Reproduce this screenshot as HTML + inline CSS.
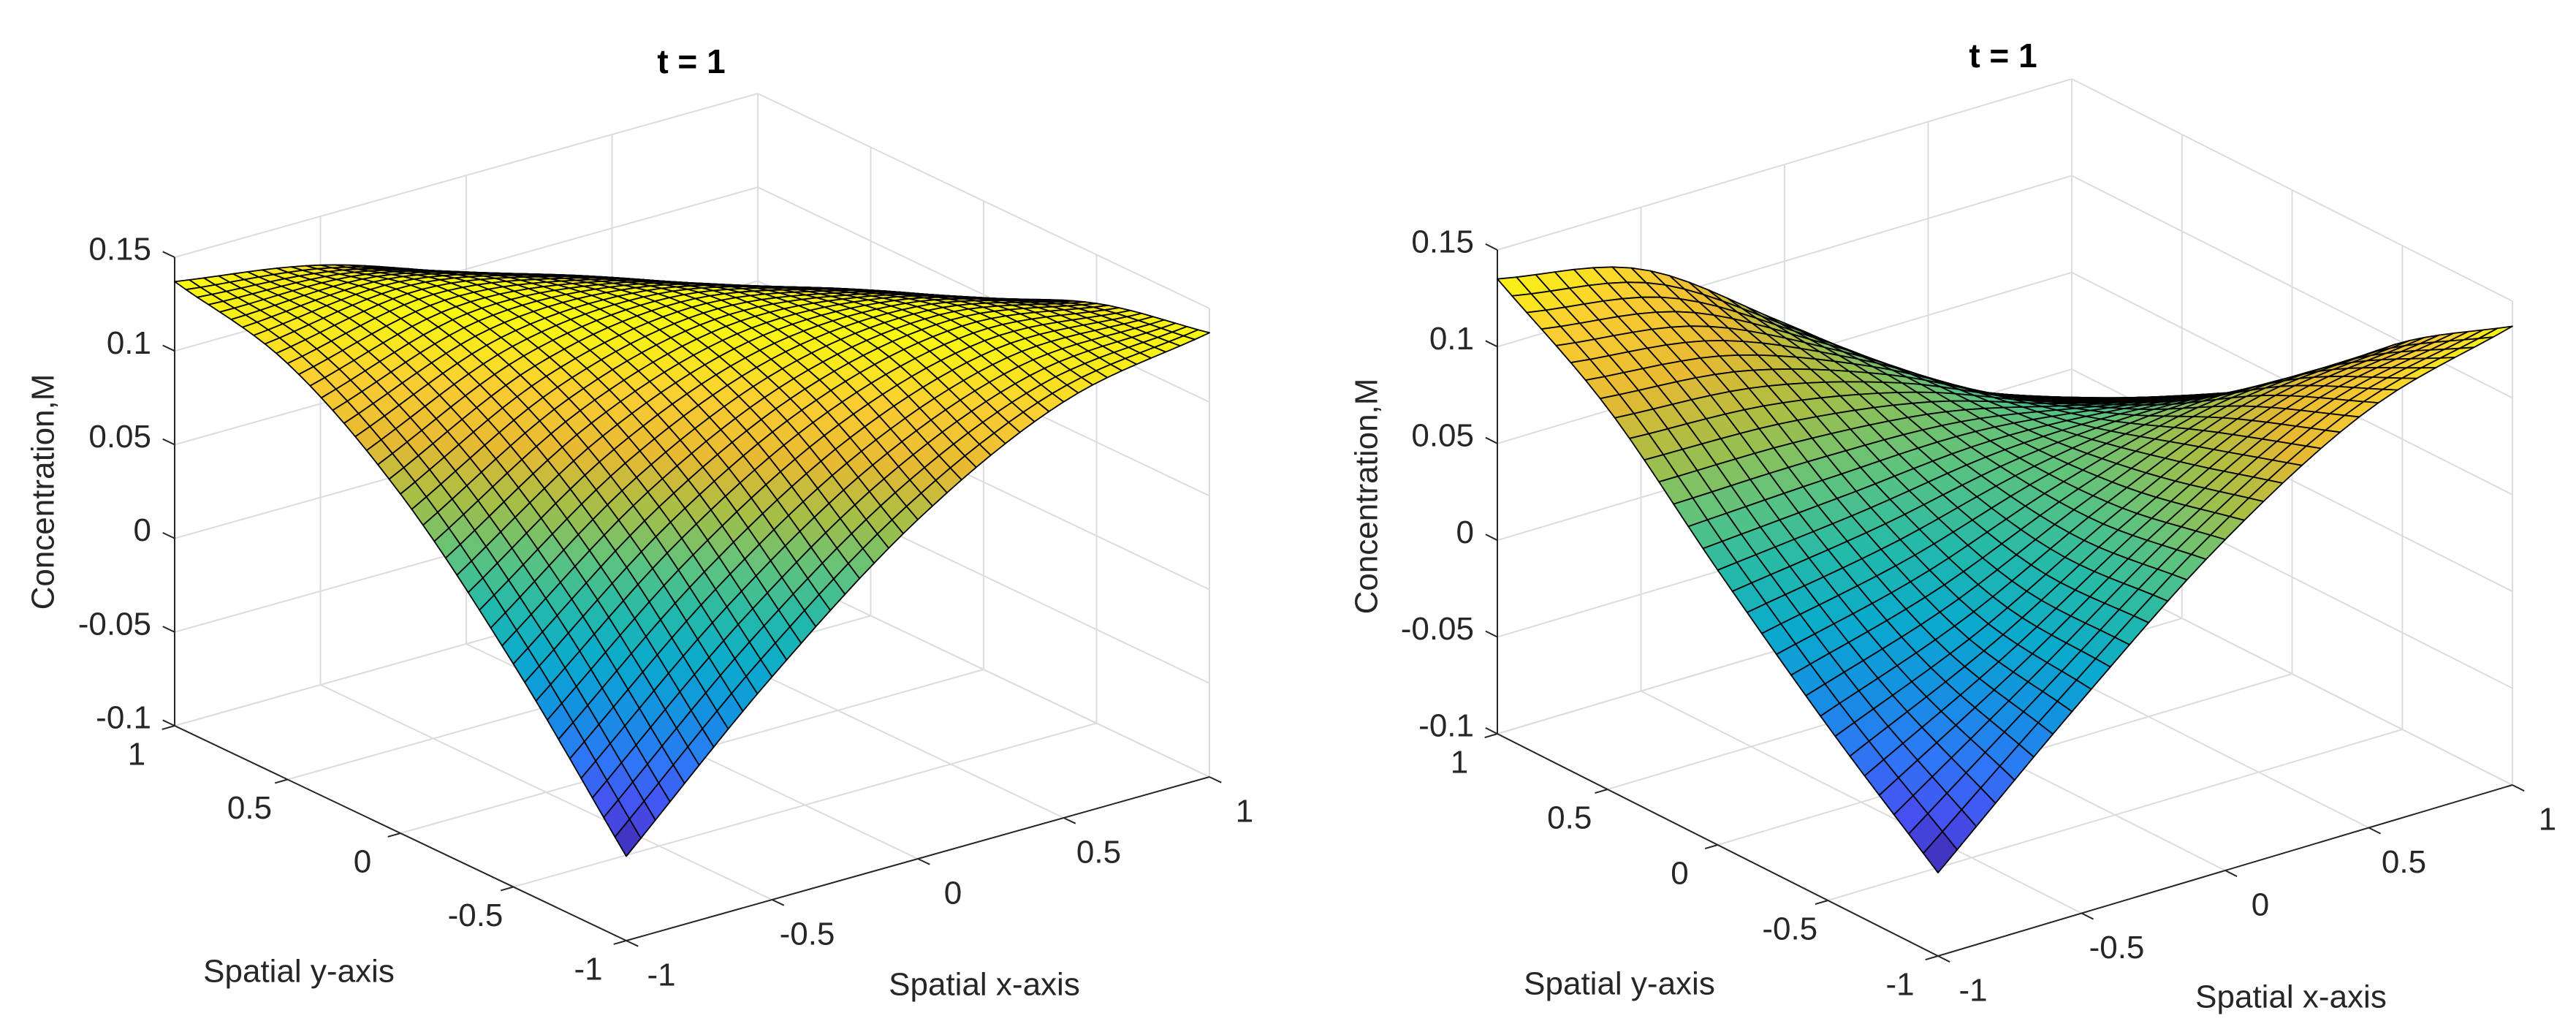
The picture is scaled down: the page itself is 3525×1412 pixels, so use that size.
<!DOCTYPE html>
<html><head><meta charset="utf-8"><style>
html,body{margin:0;padding:0;background:#fff;}
svg{display:block;}
text{font-family:"Liberation Sans",Arial,sans-serif;fill:#262626;}
</style></head><body>
<svg id="fig" width="3525" height="1412" viewBox="0 0 3525 1412" xmlns="http://www.w3.org/2000/svg"></svg>
<script>
// ---- data ----
const xTicks = [-1, -0.5, 0, 0.5, 1];
const yTicks = [-1, -0.5, 0, 0.5, 1];
const xTickLabels = ['-1', '-0.5', '0', '0.5', '1'];
const yTickLabels = ['-1', '-0.5', '0', '0.5', '1'];
const zTicks = [-0.1, -0.05, 0, 0.05, 0.1, 0.15];
const zTickLabels = ['-0.1', '-0.05', '0', '0.05', '0.1', '0.15'];
const gridNodes = [-1, -0.5, 0, 0.5, 1];
// rows: y = -1 .. 1 ; columns: x = -1 .. 1
const leftZ = [
  [-0.055, 0.019, 0.081, 0.122, 0.137],
  [0.019, 0.081, 0.122, 0.137, 0.124],
  [0.081, 0.122, 0.137, 0.124, 0.098],
  [0.122, 0.137, 0.124, 0.098, 0.073],
  [0.137, 0.124, 0.098, 0.073, 0.045]
];
const rightZ = [
  [-0.057, 0.010, 0.071, 0.116, 0.137],
  [-0.010, 0.020, 0.060, 0.092, 0.100],
  [0.042, 0.050, 0.060, 0.060, 0.050],
  [0.097, 0.090, 0.068, 0.035, 0.015],
  [0.135, 0.118, 0.068, 0.015, -0.016]
];

const NS = 'http://www.w3.org/2000/svg';
const fig = document.getElementById('fig');
function mk(tag, attrs, parent) {
  const e = document.createElementNS(NS, tag);
  for (const k in attrs) e.setAttribute(k, attrs[k]);
  parent.appendChild(e);
  return e;
}
const parula = [[62,38,168],[70,80,240],[45,120,245],[20,145,225],[10,170,205],[35,185,170],[95,195,125],[165,190,70],[230,185,50],[250,205,50],[249,251,14]];
function cmap(t) {
  t = Math.max(0, Math.min(1, t)) * 10;
  const i = Math.min(9, Math.floor(t)), f = t - i;
  const a = parula[i], b = parula[i + 1];
  return 'rgb(' + a.map((v, k) => Math.round(v + (b[k] - v) * f)).join(',') + ')';
}
function cr(p0, p1, p2, p3, t) {
  return 0.5 * ((2 * p1) + (-p0 + p2) * t + (2 * p0 - 5 * p1 + 4 * p2 - p3) * t * t + (-p0 + 3 * p1 - 3 * p2 + p3) * t * t * t);
}
function getG(Z, i, j) {
  const n = Z.length;
  if (i < 0) return 2 * getG(Z, 0, j) - getG(Z, 1, j);
  if (i >= n) return 2 * getG(Z, n - 1, j) - getG(Z, n - 2, j);
  if (j < 0) return 2 * Z[i][0] - Z[i][1];
  if (j >= n) return 2 * Z[i][n - 1] - Z[i][n - 2];
  return Z[i][j];
}
function sampleZ(Z, x, y) {
  const step = gridNodes[1] - gridNodes[0];
  let u = (x - gridNodes[0]) / step, v = (y - gridNodes[0]) / step;
  let j = Math.min(Z.length - 2, Math.floor(u)), i = Math.min(Z.length - 2, Math.floor(v));
  const fu = u - j, fv = v - i;
  const rows = [];
  for (let di = -1; di <= 2; di++) {
    rows.push(cr(getG(Z, i + di, j - 1), getG(Z, i + di, j), getG(Z, i + di, j + 1), getG(Z, i + di, j + 2), fu));
  }
  return cr(rows[0], rows[1], rows[2], rows[3], fv);
}

function drawChart(cfg, Z, N, name) {
  const g = mk('g', {}, fig);
  
  
  const zmin = zTicks[0], zmax = zTicks[zTicks.length - 1];
  const zs = cfg.zpx / (zmax - zmin);
  const P = (x, y, z) => [
    cfg.front[0] + cfg.dx[0] * (x + 1) / 2 + cfg.dy[0] * (y + 1) / 2,
    cfg.front[1] + cfg.dx[1] * (x + 1) / 2 + cfg.dy[1] * (y + 1) / 2 - (z - zmin) * zs
  ];
  const line = (a, b, stroke, w, nm, par) => {
    const l = mk('line', {x1: a[0].toFixed(1), y1: a[1].toFixed(1), x2: b[0].toFixed(1), y2: b[1].toFixed(1), stroke: stroke, 'stroke-width': w}, par);
    
    
    return l;
  };
  const gg = mk('g', {}, g);
  
  
  const GC = '#dcdcdc';
  xTicks.forEach(x => {
    line(P(x, 1, zmin), P(x, 1, zmax), GC, 2, 'grid-line-x-wall', gg);
    line(P(x, -1, zmin), P(x, 1, zmin), GC, 2, 'grid-line-x-floor', gg);
  });
  yTicks.forEach(y => {
    line(P(1, y, zmin), P(1, y, zmax), GC, 2, 'grid-line-y-wall', gg);
    line(P(-1, y, zmin), P(1, y, zmin), GC, 2, 'grid-line-y-floor', gg);
  });
  zTicks.forEach(z => {
    line(P(-1, 1, z), P(1, 1, z), GC, 2, 'grid-line-z-back', gg);
    line(P(1, 1, z), P(1, -1, z), GC, 2, 'grid-line-z-side', gg);
  });
  const AC = '#262626';
  line(P(-1, 1, zmin), P(-1, 1, zmax), AC, 2, 'z-axis-line', g);
  line(P(-1, 1, zmin), P(-1, -1, zmin), AC, 2, 'y-axis-line', g);
  line(P(-1, -1, zmin), P(1, -1, zmin), AC, 2, 'x-axis-line', g);
  const norm = v => { const L = Math.hypot(v[0], v[1]); return [v[0] / L, v[1] / L]; };
  const tx = norm([-cfg.dx[0], -cfg.dx[1]]), ty = norm([-cfg.dy[0], -cfg.dy[1]]), tz = norm(cfg.dy);
  const TL = 18;
  yTicks.forEach((y, k) => {
    const p = P(-1, y, zmin);
    line(p, [p[0] + tx[0] * TL, p[1] + tx[1] * TL], AC, 2, 'y-tick', g);
    const t = mk('text', {x: p[0] - 52, y: p[1] + 42, 'font-size': 44, 'text-anchor': 'middle', 'dominant-baseline': 'middle'}, g);
    
    
    t.textContent = yTickLabels[k];
  });
  xTicks.forEach((x, k) => {
    const p = P(x, -1, zmin);
    line(p, [p[0] + ty[0] * TL, p[1] + ty[1] * TL], AC, 2, 'x-tick', g);
    const t = mk('text', {x: p[0] + 48, y: p[1] + 50, 'font-size': 44, 'text-anchor': 'middle', 'dominant-baseline': 'middle'}, g);
    
    
    t.textContent = xTickLabels[k];
  });
  zTicks.forEach((z, k) => {
    const p = P(-1, 1, z);
    line(p, [p[0] + tz[0] * TL, p[1] + tz[1] * TL], AC, 2, 'z-tick', g);
    const t = mk('text', {x: p[0] - 32, y: p[1] - 8, 'font-size': 44, 'text-anchor': 'end', 'dominant-baseline': 'middle'}, g);
    
    
    t.textContent = zTickLabels[k];
  });
  const sg = mk('g', {}, g);
  
  
  const V = [];
  let smin = Infinity, smax = -Infinity;
  for (let i = 0; i <= N; i++) {
    V.push([]);
    for (let j = 0; j <= N; j++) {
      const x = -1 + 2 * j / N, y = -1 + 2 * i / N;
      const z = sampleZ(Z, x, y);
      V[i].push([x, y, z]);
      smin = Math.min(smin, z); smax = Math.max(smax, z);
    }
  }
  const quads = [];
  for (let i = 0; i < N; i++) for (let j = 0; j < N; j++) {
    const c = [V[i][j], V[i][j + 1], V[i + 1][j + 1], V[i + 1][j]];
    const xc = (c[0][0] + c[2][0]) / 2, yc = (c[0][1] + c[2][1]) / 2;
    const zc = (c[0][2] + c[1][2] + c[2][2] + c[3][2]) / 4;
    const far = (0.61 * xc + 0.79 * yc) * 0.866 - 8 * zc * 0.5;
    quads.push({c, zc, far});
  }
  quads.sort((a, b) => b.far - a.far);
  quads.forEach(q => {
    const pts = q.c.map(v => P(v[0], v[1], v[2]).map(n => n.toFixed(1)).join(',')).join(' ');
    const pg = mk('polygon', {points: pts, fill: cmap((q.zc - smin) / (smax - smin)), stroke: '#000', 'stroke-width': 1.8, 'stroke-linejoin': 'round'}, sg);
    
    
  });
  const tt = mk('text', {x: cfg.title[0], y: cfg.title[1], 'font-size': 46, 'font-weight': 'bold', 'text-anchor': 'middle', 'dominant-baseline': 'middle', style: 'fill:#000'}, g);
  
  
  tt.textContent = 't = 1';
  const yl = mk('text', {x: cfg.ylab[0], y: cfg.ylab[1], 'font-size': 44, 'text-anchor': 'middle', 'dominant-baseline': 'middle'}, g);
  
  
  yl.textContent = 'Spatial y-axis';
  const xl = mk('text', {x: cfg.xlab[0], y: cfg.xlab[1], 'font-size': 44, 'text-anchor': 'middle', 'dominant-baseline': 'middle'}, g);
  
  
  xl.textContent = 'Spatial x-axis';
  const zl = mk('text', {x: 0, y: 0, 'font-size': 44, 'text-anchor': 'middle', 'dominant-baseline': 'middle', transform: 'translate(' + cfg.zlab[0] + ',' + cfg.zlab[1] + ') rotate(-90)'}, g);
  
  
  zl.textContent = 'Concentration,M';
}

drawChart({front: [857, 1287], dx: [798, -224], dy: [-618, -294], zpx: 641,
  title: [946, 88], ylab: [409, 1332], xlab: [1347, 1350], zlab: [62, 673]}, leftZ, 40, 'left-surface-chart');
drawChart({front: [2652, 1308], dx: [786, -234], dy: [-603, -304], zpx: 662,
  title: [2741, 80], ylab: [2216, 1349], xlab: [3135, 1367], zlab: [1873, 679]}, rightZ, 30, 'right-surface-chart');
</script>
</body></html>
